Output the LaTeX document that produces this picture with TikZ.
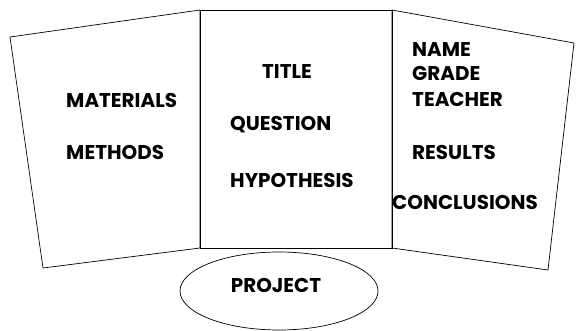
\documentclass[tikz,border=0pt]{standalone}
\usepackage{fontspec}
\setmainfont{Poppins}
\usetikzlibrary{shapes.geometric, positioning}

\tikzset{
  panel/.style={draw, semithick},
  word/.style={font=\fontsize{17}{19}\selectfont\bfseries, inner sep=0pt, anchor=west}
}

\begin{document}
\begin{tikzpicture}[x=0.03cm, y=-0.03cm]
\useasboundingbox (0,0) rectangle (577,331);
% three panels of the board
\draw[panel] (10,37) -- (200,10) -- (200,248) -- (43,268) -- cycle;
\draw[panel] (200,10) rectangle (392,248);
\draw[panel] (392,10) -- (574,43) -- (548,270) -- (392,248) -- cycle;

\node[panel, ellipse, minimum width=5.94cm, minimum height=2.34cm] (project) at (279,291) {};
\node[word, anchor=center] (projtext) at (276,285) {PROJECT};

% left panel
\node[word] (materials) at (66,100) {MATERIALS};
\node[word] (methods) at (66,152) {METHODS};

% centre panel
\node[word, anchor=center] (title) at (287,72) {TITLE};
\node[word] (question) at (230,125) {QUESTION};
\node[word] (hypothesis) at (230,180) {HYPOTHESIS};

% right panel
\node[word] (name) at (412,50) {NAME};
\node[word] (grade) at (412,73) {GRADE};
\node[word] (teacher) at (412,99) {TEACHER};
\node[word] (results) at (412,152) {RESULTS};
\node[word] (conclusions) at (392,202) {CONCLUSIONS};
\end{tikzpicture}
\end{document}
